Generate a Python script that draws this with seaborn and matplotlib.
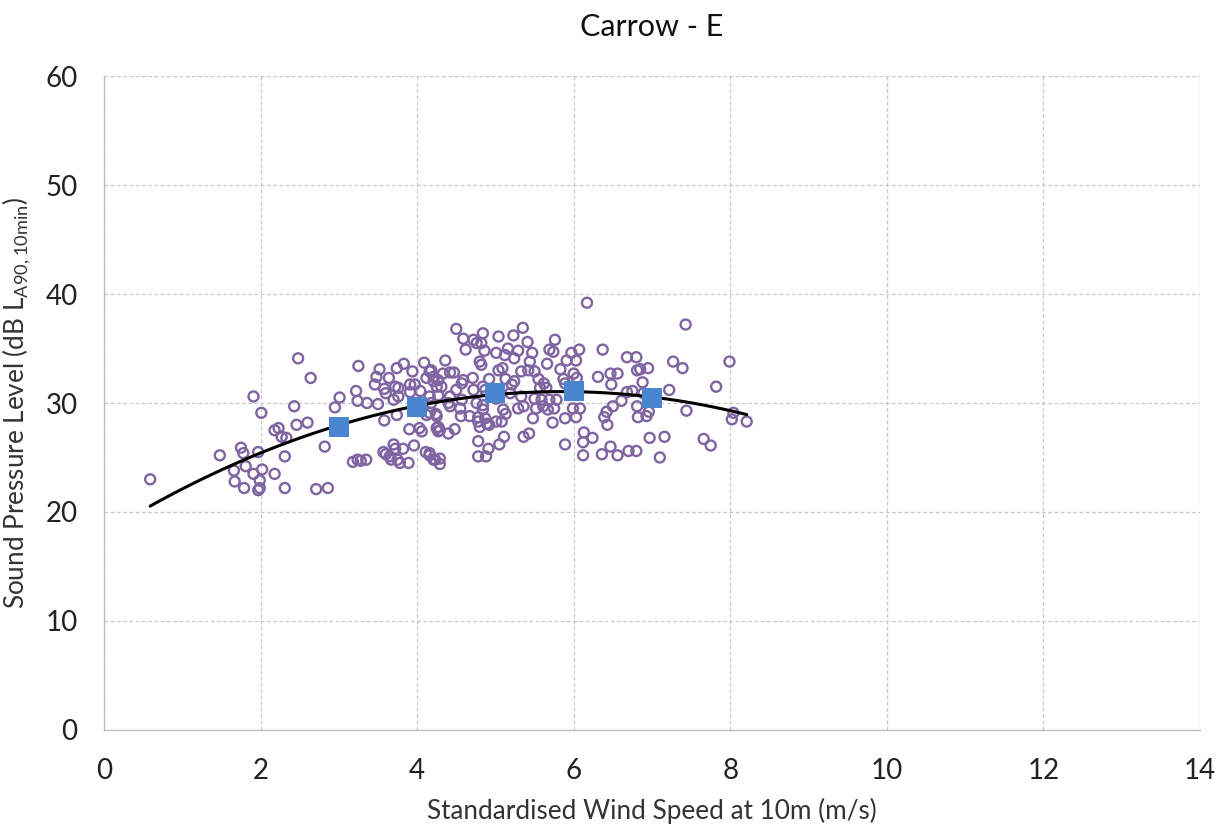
import seaborn as sns
import matplotlib.pyplot as plt
import pandas as pd

# measured 10-minute samples (wind speed m/s, LA90 dB)
wind = [
    0.59, 1.48, 1.66, 1.67, 1.75, 1.78, 1.79, 1.81, 1.91, 1.91, 1.97, 1.97,
    1.99, 1.99, 2.01, 2.02, 2.18, 2.18, 2.23, 2.27, 2.31, 2.31, 2.33,
    2.48, 2.64, 3.25, 3.52, 3.74, 3.83, 3.94, 4.09, 3.48, 3.64, 3.46, 3.58,
    3.72, 3.76, 3.91, 3.97, 4.12, 4.16, 4.21, 3.22, 3.60, 3.76, 3.91, 4.04,
    3.01, 3.24, 3.36, 3.50, 3.70, 2.95, 2.43, 3.74, 4.12, 4.24, 2.60, 2.46,
    3.58, 3.90, 4.03, 4.06, 4.25, 4.27, 2.82, 3.70, 3.72, 3.82, 3.96, 3.57,
    3.60, 3.65, 3.67, 3.75, 3.78, 3.89, 4.11, 4.16, 4.21, 3.18, 3.24, 3.28,
    3.35, 2.71, 2.86,
    6.17, 4.50, 4.59, 4.72, 4.84, 4.82, 4.62, 4.76, 5.04, 5.23, 5.35, 5.41,
    4.86, 5.01, 5.16, 5.29, 5.12, 5.24, 5.47, 5.76, 5.69, 5.74, 6.07, 5.97,
    6.03, 5.91, 4.36, 4.80, 4.82, 5.44, 5.66, 4.18, 4.33, 4.42, 4.47, 5.04,
    5.09, 5.33, 5.42, 5.50, 5.83, 6.00, 4.21, 4.27, 4.59, 4.71, 4.92, 5.13,
    5.24, 5.55, 5.62, 5.87, 5.89, 6.04, 4.25, 4.31, 4.50, 4.57, 4.72, 4.84,
    4.87, 5.21, 5.57, 5.65, 4.42, 4.27, 4.16, 4.18, 4.40, 4.57, 4.76, 4.84,
    5.01, 5.19, 5.33, 5.50, 5.59, 5.69, 5.78, 4.16, 4.25, 4.42, 4.55, 4.56,
    4.67, 4.78, 4.84, 4.87, 5.10, 5.13, 5.29, 5.36, 5.52, 5.61, 5.67, 5.75,
    5.99, 6.08, 6.03, 5.48, 4.27, 4.29, 4.40, 4.48, 4.78, 4.80, 4.89, 4.92,
    5.01, 5.08, 5.73, 5.89, 5.36, 5.43, 5.11, 5.05, 4.78, 5.89, 6.13, 6.12,
    4.91, 4.78, 4.88, 4.16, 4.23, 4.29, 4.29, 6.12,
    7.43, 6.37, 6.68, 6.80, 6.81, 6.85, 6.95, 7.27, 7.39, 7.99, 6.47, 6.56,
    6.31, 6.48, 6.88, 7.82, 7.22, 6.68, 6.75, 6.89, 6.61, 6.50, 6.42, 6.81,
    6.96, 6.82, 6.93, 6.39, 6.43, 7.44, 8.04, 8.02, 8.21, 6.24, 6.47, 6.56,
    6.36, 6.97, 7.16, 6.70, 6.80, 7.10, 7.66, 7.75,
]
level = [
    23.0, 25.2, 23.8, 22.8, 25.9, 25.4, 22.2, 24.2, 30.6, 23.5, 25.5, 22.0,
    22.9, 22.2, 29.1, 23.9, 27.5, 23.5, 27.7, 26.9, 25.1, 22.2, 26.8,
    34.1, 32.3, 33.4, 33.1, 33.2, 33.6, 32.9, 33.7, 32.4, 32.3, 31.7, 31.3,
    31.5, 31.4, 31.7, 31.7, 32.3, 32.9, 32.0, 31.1, 30.9, 30.6, 31.0, 31.1,
    30.5, 30.2, 30.0, 29.9, 30.3, 29.6, 29.7, 28.9, 28.9, 29.0, 28.2, 28.0,
    28.4, 27.6, 27.7, 27.4, 27.7, 27.4, 26.0, 26.2, 25.8, 25.8, 26.1, 25.5,
    25.3, 25.1, 24.8, 24.8, 24.5, 24.5, 25.5, 25.2, 24.8, 24.6, 24.8, 24.7,
    24.8, 22.1, 22.2,
    39.2, 36.8, 35.9, 35.8, 36.4, 35.5, 34.9, 35.5, 36.1, 36.2, 36.9, 35.6,
    34.8, 34.6, 35.0, 34.8, 34.4, 34.1, 34.6, 35.8, 34.9, 34.7, 34.9, 34.6,
    33.9, 33.9, 33.9, 33.8, 33.5, 33.8, 33.6, 33.0, 32.7, 32.8, 32.8, 33.0,
    33.2, 32.9, 33.0, 32.9, 33.1, 32.7, 32.4, 32.1, 32.1, 32.3, 32.2, 32.2,
    32.0, 32.2, 31.8, 32.2, 31.8, 32.3, 31.5, 31.5, 31.2, 31.8, 31.2, 31.5,
    31.2, 31.7, 31.4, 31.4, 30.6, 30.7, 30.6, 30.0, 30.0, 30.3, 30.0, 29.8,
    30.4, 30.9, 30.6, 30.4, 30.3, 30.3, 30.3, 29.1, 28.8, 29.7, 29.5, 28.8,
    28.8, 28.7, 29.4, 28.6, 29.4, 29.0, 29.5, 29.7, 29.5, 29.7, 29.4, 29.5,
    29.5, 29.5, 28.7, 28.6, 27.8, 27.5, 27.2, 27.6, 28.3, 27.8, 28.1, 28.0,
    28.3, 28.3, 28.2, 28.6, 26.9, 27.2, 26.9, 26.2, 26.5, 26.2, 27.3, 26.4,
    25.8, 25.1, 25.1, 25.4, 24.8, 24.9, 24.4, 25.2,
    37.2, 34.9, 34.2, 34.2, 33.0, 33.1, 33.2, 33.8, 33.2, 33.8, 32.7, 32.7,
    32.4, 31.7, 31.9, 31.5, 31.2, 31.0, 31.1, 30.9, 30.2, 29.7, 29.2, 29.7,
    29.2, 28.7, 28.8, 28.7, 28.0, 29.3, 29.1, 28.5, 28.3, 26.8, 26.0, 25.2,
    25.3, 26.8, 26.9, 25.6, 25.6, 25.0, 26.7, 26.1,
]

# bin averages
bin_speed = [3, 4, 5, 6, 7]
bin_level = [27.8, 29.6, 30.9, 31.1, 30.5]

df = pd.DataFrame({"wind": wind, "level": level})
bins = pd.DataFrame({"wind": bin_speed, "level": bin_level})

sns.set_style("white")
plt.rcParams["font.family"] = ["Lato", "DejaVu Sans"]

fig, ax = plt.subplots(figsize=(12.26, 8.3), dpi=100)
fig.subplots_adjust(left=0.0848, right=0.9788, top=0.9084, bottom=0.1205)

sns.scatterplot(data=df, x="wind", y="level", ax=ax, marker="o", s=52,
                facecolor="none", edgecolor="#8064A2", linewidth=1.7, zorder=3)
sns.regplot(data=df, x="wind", y="level", ax=ax, order=2, ci=None,
            scatter=False, truncate=True,
            line_kws={"color": "black", "linewidth": 2.2, "zorder": 4})
sns.scatterplot(data=bins, x="wind", y="level", ax=ax, marker="s", s=200,
                color="#4A86D0", linewidth=0, zorder=5)

ax.set_xlim(0, 14)
ax.set_ylim(0, 60)
ax.set_xticks(range(0, 15, 2))
ax.set_yticks(range(0, 61, 10))
ax.grid(True, linestyle=(0, (3, 2)), color="#c8c8c8", linewidth=0.9)
ax.set_axisbelow(True)
for side in ["top", "right"]:
    ax.spines[side].set_visible(False)
for side in ["left", "bottom"]:
    ax.spines[side].set_color("#bfbfbf")
    ax.spines[side].set_linewidth(1.0)
ax.tick_params(axis="both", labelsize=20, colors="#222222", length=0)
ax.tick_params(axis="x", pad=20)
ax.tick_params(axis="y", pad=19)

ax.set_title("Carrow - E", fontsize=22, pad=29, color="#111111")
ax.set_xlabel("Standardised Wind Speed at 10m (m/s)", fontsize=18.8,
              color="#333333", labelpad=10)
ax.set_ylabel(r"Sound Pressure Level (dB L$_{\mathregular{A90,10min}}$)",
              fontsize=18.8, color="#333333", labelpad=9)

fig.savefig("out.png", dpi=100)
